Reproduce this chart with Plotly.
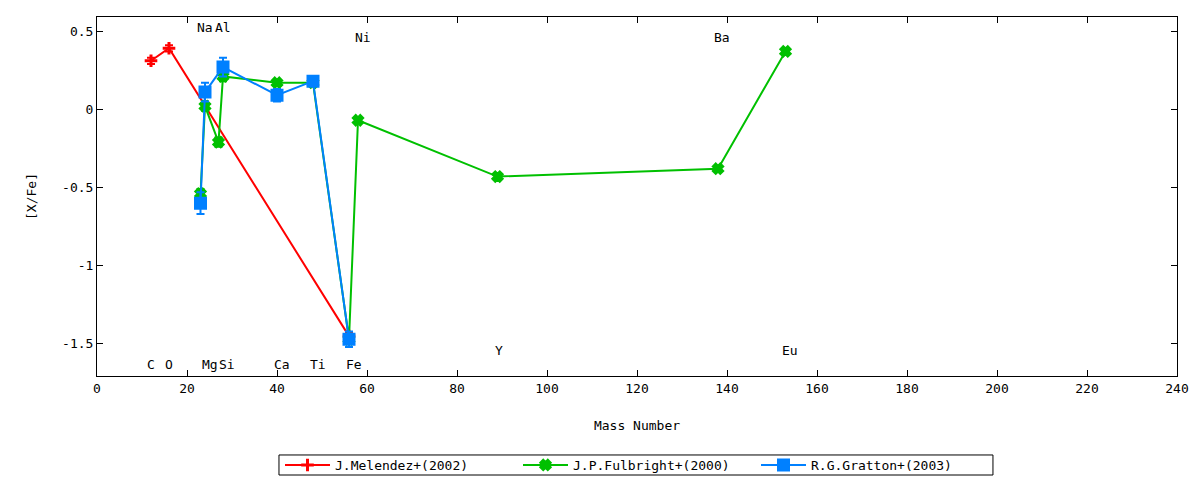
import plotly.graph_objects as go

# abundance ratios [X/Fe] vs mass number
mel_mass = [12, 16, 56]
mel_xfe = [0.31, 0.39, -1.45]
mel_err = [0.02, 0.02, 0.02]

ful_mass = [23, 24, 27, 28, 40, 48, 56, 58, 89, 138, 153]
ful_xfe = [-0.54, 0.02, -0.21, 0.21, 0.17, 0.17, -1.47, -0.07, -0.43, -0.38, 0.37]
ful_err = [0.03, 0.03, 0.03, 0.03, 0.02, 0.02, 0.03, 0.02, 0.02, 0.02, 0.02]

gra_mass = [23, 24, 28, 40, 48, 56]
gra_xfe = [-0.60, 0.11, 0.27, 0.09, 0.18, -1.47]
gra_err = [0.07, 0.06, 0.06, 0.04, 0.03, 0.05]

# element labels: name, mass position, y position
elem_names = ["Na", "Al", "Ni", "Ba", "C", "O", "Mg", "Si", "Ca", "Ti", "Fe", "Y", "Eu"]
elem_x = [24, 27.9, 59, 138.9, 12.1, 16.1, 25.1, 28.9, 41, 49.1, 57.1, 89.3, 154]
elem_y = [0.523, 0.523, 0.46, 0.46, -1.63, -1.63, -1.63, -1.63, -1.63, -1.63, -1.63, -1.54, -1.54]

x_ticks = list(range(0, 241, 20))
y_ticks = [0.5, 0, -0.5, -1, -1.5]
y_ticktext = ["0.5", "0", "-0.5", "-1", "-1.5"]

FONT = "DejaVu Sans Mono"

fig = go.Figure()

series = [
    ("J.Melendez+(2002)", mel_mass, mel_xfe, mel_err, "#ff0000", "cross-thin-open", 9),
    ("J.P.Fulbright+(2000)", ful_mass, ful_xfe, ful_err, "#00c000", "x", 8),
    ("R.G.Gratton+(2003)", gra_mass, gra_xfe, gra_err, "#0080ff", "square", 10),
]
for name, xs, ys, es, col, sym, sz in series:
    fig.add_trace(go.Scatter(
        x=xs, y=ys, name=name, mode="lines+markers",
        line=dict(color=col, width=2),
        marker=dict(symbol=sym, size=sz, color=col, line=dict(color=col, width=3)),
        error_y=dict(type="data", array=es, visible=True, color=col, thickness=2, width=4),
    ))

for name, x, y in zip(elem_names, elem_x, elem_y):
    fig.add_annotation(x=x, y=y, text=name, showarrow=False,
                       font=dict(family=FONT, size=13, color="black"))

# thin gnuplot-style key box (plotly's own legend box is too tall)
fig.add_shape(type="rect", xref="paper", yref="paper",
              x0=0.1685, x1=0.8296, y0=-0.2758, y1=-0.22,
              line=dict(color="black", width=1), fillcolor="rgba(0,0,0,0)")

# page body has an 8px margin, so the figure starts at (8, 8)
fig.update_layout(
    width=1192, height=472,
    paper_bgcolor="white", plot_bgcolor="white",
    margin=dict(l=89, r=23, t=9, b=104, autoexpand=False),
    font=dict(family=FONT, size=13, color="black"),
    showlegend=True,
    legend=dict(orientation="h", x=0.5, xanchor="center", y=-0.248, yanchor="middle",
                borderwidth=0, bgcolor="rgba(0,0,0,0)", font=dict(family=FONT, size=13),
                itemwidth=45, entrywidth=178),
)
fig.update_xaxes(
    range=[0, 240], tickvals=x_ticks, showgrid=False, zeroline=False, automargin=False,
    showline=True, linecolor="black", linewidth=1, mirror="ticks",
    ticks="inside", ticklen=6, tickcolor="black",
    title=dict(text="Mass Number", font=dict(family=FONT, size=13), standoff=26),
)
fig.update_yaxes(
    range=[-1.705, 0.59], tickvals=y_ticks, ticktext=y_ticktext, showgrid=False, zeroline=False,
    automargin=False,
    showline=True, linecolor="black", linewidth=1, mirror="ticks",
    ticks="inside", ticklen=6, tickcolor="black",
    title=dict(text="[X/Fe]", font=dict(family=FONT, size=13), standoff=22),
)

fig.write_html("out.html")
